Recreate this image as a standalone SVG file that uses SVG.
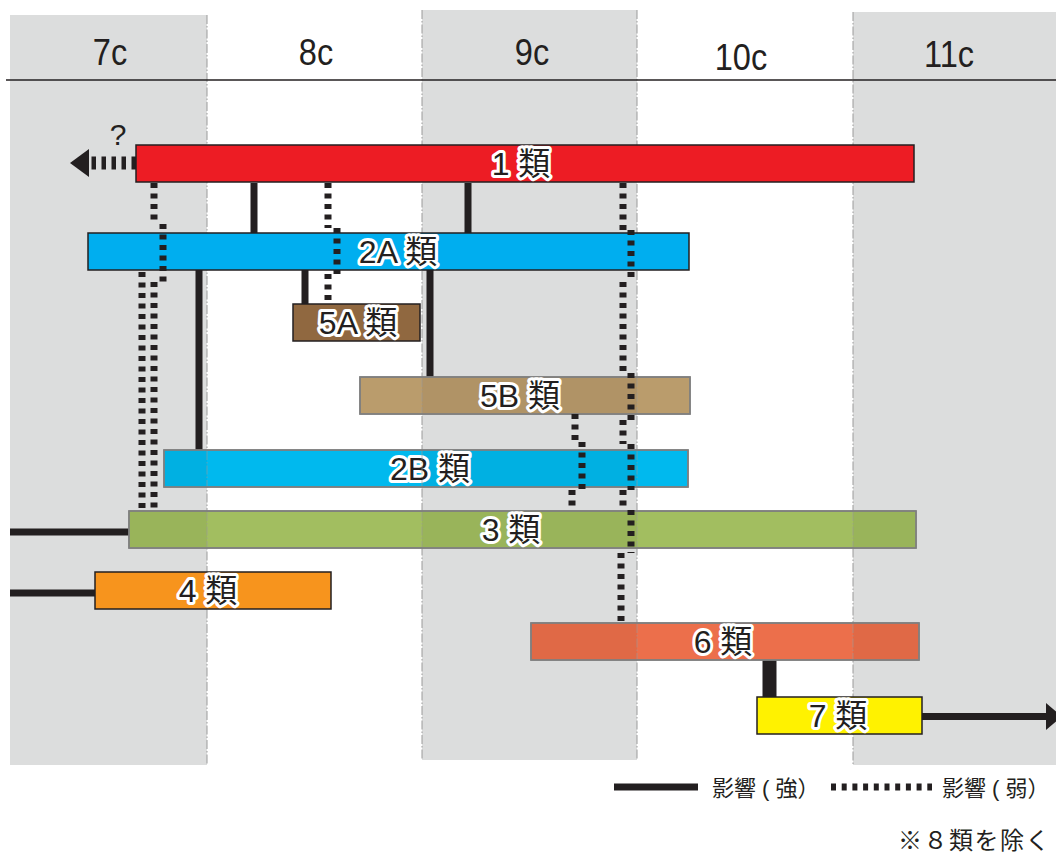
<svg xmlns="http://www.w3.org/2000/svg" width="1056" height="854" viewBox="0 0 1056 854">
<style>
.band{fill:#DCDDDD}
.vline{stroke:#9A9A9A;stroke-width:1;stroke-dasharray:9 2 1.5 2;fill:none}
.ax{font-family:"Liberation Sans",Arial,sans-serif;font-size:37px;fill:#231F20}
.bar{stroke:#231F20;stroke-width:1.5}
.tbar{stroke:#7F7F7F;stroke-width:1.5}
.lbl{font-family:"Liberation Sans","Noto Sans CJK JP",sans-serif;font-size:32px;fill:#231F20;stroke:#FFFFFF;stroke-width:6;stroke-linejoin:round;paint-order:stroke;text-anchor:middle}
.strong{stroke:#231F20;stroke-width:7;fill:none}
.weak{stroke:#231F20;stroke-width:7;stroke-dasharray:5 5.5;fill:none}
.leg{font-family:"Liberation Sans","Noto Sans CJK JP",sans-serif;font-size:22px;fill:#231F20}
</style>
<rect width="1056" height="854" fill="#FFFFFF"/>
<g id="bands">
<rect class="band" x="10" y="15" width="197" height="750"/>
<rect class="band" x="422" y="10" width="215" height="750"/>
<rect class="band" x="853" y="12" width="203" height="753"/>
<path class="vline" d="M207 15V765M422 10V760M637 10V760M853 12V765"/>
</g>
<g id="axis">
<line x1="6" y1="80" x2="1056" y2="80" stroke="#231F20" stroke-width="1.5"/>
<text class="ax" text-anchor="middle" transform="translate(110,65) scale(0.88,1)">7c</text>
<text class="ax" text-anchor="middle" transform="translate(316,65) scale(0.88,1)">8c</text>
<text class="ax" text-anchor="middle" transform="translate(532,65) scale(0.88,1)">9c</text>
<text class="ax" text-anchor="middle" transform="translate(741,70) scale(0.88,1)">10c</text>
<text class="ax" text-anchor="middle" transform="translate(949,67) scale(0.88,1)">11c</text>
</g>
<g id="connectors">
<path d="M136 163H90" stroke="#231F20" stroke-width="13" stroke-dasharray="4.5 5.5" fill="none"/>
<polygon points="70,163 89,149 89,177" fill="#231F20"/>
<text x="118" y="145" text-anchor="middle" font-family="Liberation Sans,Arial,sans-serif" font-size="30" fill="#231F20">?</text>
<path class="strong" d="M254 183V233M468 183V233M199 270V450M305 270V304M430 270V377"/>
<path class="strong" d="M10 532H129M10 593H95"/>
<path d="M769.5 660V697" stroke="#231F20" stroke-width="14"/>
<path class="strong" d="M922 716.5H1048"/>
<polygon points="1046,703 1062,716.5 1046,730" fill="#231F20"/>
</g>
<g id="n1"><rect class="bar" x="136" y="145" width="778" height="37" fill="#ED1C24"/><text class="lbl" x="521" y="175">1 類</text></g>
<g id="n2A"><rect class="bar" x="88" y="233" width="601" height="37" fill="#00AEEF"/><text class="lbl" x="398" y="263">2A 類</text></g>
<g id="n5A"><rect class="bar" x="293" y="304" width="127" height="37" fill="#906840"/><text class="lbl" x="358" y="334">5A 類</text></g>
<g id="n5B"><rect class="tbar" x="360" y="377" width="330" height="37" fill="#BA9C6C"/><rect x="422" y="377.75" width="215" height="35.5" fill="#B09366"/><rect x="360" y="377" width="330" height="37" fill="none" class="tbar"/><text class="lbl" x="520" y="407">5B 類</text></g>
<g id="n2B"><rect class="tbar" x="164" y="450" width="524" height="37" fill="#00B9EE"/><rect x="164.75" y="450.75" width="42.25" height="35.5" fill="#00B0E2"/><rect x="422" y="450.75" width="215" height="35.5" fill="#00B0E2"/><rect x="164" y="450" width="524" height="37" fill="none" class="tbar"/><text class="lbl" x="430" y="480">2B 類</text></g>
<g id="n3"><rect class="tbar" x="129" y="511" width="787" height="37" fill="#A2BE60"/><rect x="129.75" y="511.75" width="77.25" height="35.5" fill="#99B45A"/><rect x="422" y="511.75" width="215" height="35.5" fill="#99B45A"/><rect x="853" y="511.75" width="62.25" height="35.5" fill="#99B45A"/><rect x="129" y="511" width="787" height="37" fill="none" class="tbar"/><text class="lbl" x="511" y="541">3 類</text></g>
<g id="n4"><rect class="bar" x="95" y="572" width="236" height="37" fill="#F7941D"/><text class="lbl" x="208" y="602">4 類</text></g>
<g id="n6"><rect class="tbar" x="531" y="623" width="388" height="37" fill="#EC6F4B"/><rect x="531.75" y="623.75" width="105.25" height="35.5" fill="#E06946"/><rect x="853" y="623.75" width="65.25" height="35.5" fill="#E06946"/><rect x="531" y="623" width="388" height="37" fill="none" class="tbar"/><text class="lbl" x="723" y="653">6 類</text></g>
<g id="n7"><rect class="bar" x="757" y="697" width="165" height="37" fill="#FFF200"/><text class="lbl" x="838" y="727">7 類</text></g>
<g id="bandlines-through">
<path class="vline" stroke-opacity="0.6" d="M422 378V413M637 378V413M207 451V486M422 451V486M637 451V486M207 512V547M422 512V547M637 512V547M853 512V547M637 624V659M853 624V659"/>
</g>
<g id="weak-connectors">
<path class="weak" d="M154 183V224M163 224V282M154 282V511"/>
<path class="weak" d="M142 272V511"/>
<path class="weak" d="M328 183V228M337 228V274M328 274V304"/>
<path class="weak" d="M623 183V230M631 230V282M623 282V373M631 373V420M623 420V444M631 444V490M623 490V510M631 510V553M621 553V623"/>
<path class="weak" d="M575 414V442M582 442V490M572 490V511"/>
</g>
<g id="legend">
<path class="strong" d="M614 787H698"/>
<text class="leg" x="712" y="796">影響 ( 強）</text>
<path d="M831 787H932" stroke="#231F20" stroke-width="7" stroke-dasharray="5 5.7"/>
<text class="leg" x="942" y="796">影響 ( 弱）</text>
<text x="898" y="849" font-family="Liberation Sans,Noto Sans CJK JP,sans-serif" font-size="24" fill="#231F20" letter-spacing="1.5">※８類を除く</text>
</g>
</svg>
